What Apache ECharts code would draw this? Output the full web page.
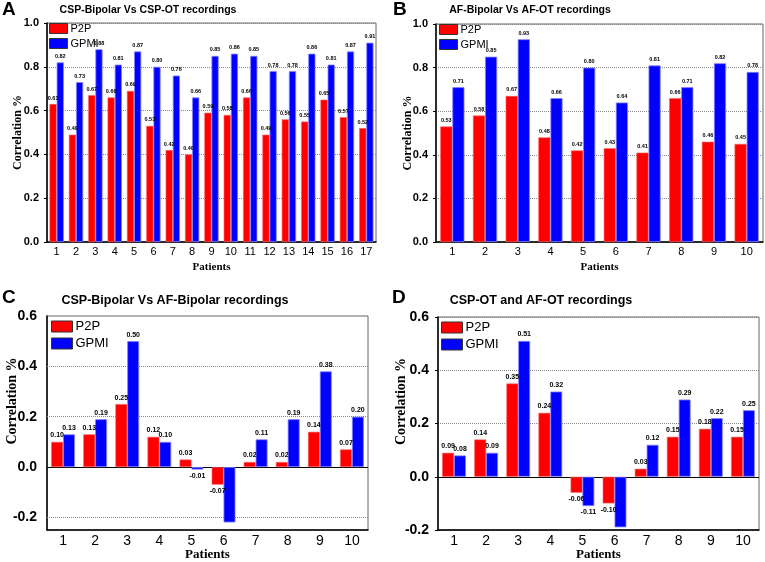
<!DOCTYPE html>
<html><head><meta charset="utf-8">
<script src="https://cdn.jsdelivr.net/npm/echarts@6/dist/echarts.min.js"></script>
<style>html,body{margin:0;padding:0;background:#fff}#c{width:765px;height:562px}</style>
</head><body><div id="c"></div>
<script>
// ---- Data ----
const patientsA = ['1','2','3','4','5','6','7','8','9','10','11','12','13','14','15','16','17'];
const patients10 = ['1','2','3','4','5','6','7','8','9','10'];
const aP2P  = [0.63,0.49,0.67,0.66,0.69,0.53,0.42,0.40,0.59,0.58,0.66,0.49,0.56,0.55,0.65,0.57,0.52];
const aGPMI = [0.82,0.73,0.88,0.81,0.87,0.80,0.76,0.66,0.85,0.86,0.85,0.78,0.78,0.86,0.81,0.87,0.91];
const bP2P  = [0.53,0.58,0.67,0.48,0.42,0.43,0.41,0.66,0.46,0.45];
const bGPMI = [0.71,0.85,0.93,0.66,0.80,0.64,0.81,0.71,0.82,0.78];
const cP2P  = [0.10,0.13,0.25,0.12,0.03,-0.07,0.02,0.02,0.14,0.07];
const cGPMI = [0.13,0.19,0.50,0.10,-0.01,-0.22,0.11,0.19,0.38,0.20];
const dP2P  = [0.09,0.14,0.35,0.24,-0.06,-0.10,0.03,0.15,0.18,0.15];
const dGPMI = [0.08,0.09,0.51,0.32,-0.11,-0.19,0.12,0.29,0.22,0.25];
const titles = ['CSP-Bipolar Vs CSP-OT recordings','AF-Bipolar Vs AF-OT recordings','CSP-Bipolar Vs AF-Bipolar recordings','CSP-OT and AF-OT recordings'];
const letters = ['A','B','C','D'];
const seriesNames = ['P2P','GPMI'];

// ---- Styles ----
const RED = '#ff0000', BLUE = '#0000ff';
const SANS = 'Liberation Sans, Arial, sans-serif';
const SERIF = 'Liberation Serif, Times New Roman, serif';

const panels = [
  {grid:{left:47, top:23, right:389, bottom:320}, cats:patientsA, p:aP2P, g:aGPMI, min:0, max:1, interval:0.2,
   tickFs:11, catFs:11, nameFs:12, lblFs:5.5, legFs:11, legW:18, legH:10, legLeft:49, legTop:23, titleX:148, titleY:5, titleFs:10.5,
   patY:20, yGap:23, yMargin:8, nameShift:0},
  {grid:{left:436, top:24, right:2, bottom:320}, cats:patients10, p:bP2P, g:bGPMI, min:0, max:1, interval:0.2,
   tickFs:11, catFs:11, nameFs:12, lblFs:5.5, legFs:11, legW:18, legH:10, legLeft:439, legTop:24, titleX:530, titleY:5, titleFs:10.5,
   patY:20, yGap:22, yMargin:8, nameShift:0},
  {grid:{left:47, top:316, right:397, bottom:32}, cats:patients10, p:cP2P, g:cGPMI, min:-0.25, max:0.6, interval:0.05,
   tickFs:14, catFs:14, nameFs:14, lblFs:7, legFs:13, legW:21, legH:11, legLeft:51, legTop:320, titleX:175, titleY:294, titleFs:12.5,
   patY:18, yGap:28, yMargin:10, nameShift:44, extraLines:[-0.2,0.2,0.4]},
  {grid:{left:438, top:317, right:6, bottom:32}, cats:patients10, p:dP2P, g:dGPMI, min:-0.2, max:0.6, interval:0.2,
   tickFs:14, catFs:14, nameFs:14, lblFs:7, legFs:13, legW:21, legH:11, legLeft:441, legTop:321, titleX:541, titleY:294, titleFs:12.5,
   patY:18, yGap:30, yMargin:9, nameShift:44}
];
const letterPos = [[2,0],[393,0],[2,288],[392,288]];

const option = {animation:false, backgroundColor:'#fff', title:[], grid:[], xAxis:[], yAxis:[], legend:[], series:[]};

panels.forEach((pn, i) => {
  option.title.push({text:letters[i], left:letterPos[i][0], top:letterPos[i][1],
    textStyle:{fontFamily:SANS, fontWeight:'bold', fontSize:19, color:'#000'}, padding:0});
  option.title.push({text:titles[i], left:pn.titleX, top:pn.titleY, textAlign:'center', padding:0,
    textStyle:{fontFamily:SANS, fontWeight:'bold', fontSize:pn.titleFs, color:'#000'}});
  option.grid.push({left:pn.grid.left, top:pn.grid.top, right:pn.grid.right, bottom:pn.grid.bottom,
    show:true, borderColor:'#666', borderWidth:1, containLabel:false, outerBoundsMode:'none'});
  option.xAxis.push({type:'category', gridIndex:i, data:pn.cats,
    name:'Patients', nameLocation:'middle', nameGap:pn.patY, nameMoveOverlap:false,
    nameTextStyle:{fontFamily:SERIF, fontWeight:'bold', fontSize:pn.nameFs-1, color:'#000'},
    axisLine:{onZero:false, lineStyle:{color:'#000', width:1.5}},
    axisTick:{show:false},
    axisLabel:{fontFamily:SANS, fontSize:pn.catFs, color:'#000', margin:4}});
  const isC = pn.interval < 0.1;
  option.yAxis.push({type:'value', gridIndex:i, min:pn.min, max:pn.max, interval:pn.interval,
    name:'Correlation %', nameLocation:'middle', nameGap:pn.yGap, nameMoveOverlap:false,
    nameTextStyle:{fontFamily:SERIF, fontWeight:'bold', fontSize:pn.nameFs, color:'#000', padding:[0,0,0,pn.nameShift]},
    axisLine:{show:true, lineStyle:{color:'#000', width:1.5}},
    axisTick:{show:!isC, length:3, lineStyle:{color:'#000'}},
    splitLine:{show:!isC, lineStyle:{color:'#888', type:'dotted', width:1}},
    axisLabel:{fontFamily:SANS, fontWeight:'bold', fontSize:pn.tickFs, color:'#000', margin:pn.yMargin,
      formatter: v => {
        const k = v * 5;
        if (Math.abs(k - Math.round(k)) > 1e-6) return '';
        const r = Math.round(k) / 5;
        return (Math.abs(r) < 1e-9 ? 0 : r).toFixed(1);
      }}});
  option.legend.push({orient:'vertical', left:pn.legLeft, top:pn.legTop, padding:0, itemGap:4,
    itemWidth:pn.legW, itemHeight:pn.legH, icon:'rect', data:seriesNames,
    textStyle:{fontFamily:SANS, fontSize:pn.legFs, color:'#000', padding:[0,0,0,-2]},
    itemStyle:{borderColor:'#333', borderWidth:1}});
  const mk = (vals) => vals.map(v => ({value:v, label:{position: v < 0 ? 'bottom' : 'top', show: v >= pn.min + 0.05}}));
  const lblStyle = {show:true, fontFamily:SANS, fontWeight:'bold', fontSize:pn.lblFs, color:'#000', distance:3,
    formatter: p => p.value.toFixed(2)};
  const markLines = [{yAxis:0, lineStyle:{color:'#000', type:'solid', width:1}}];
  (pn.extraLines || []).forEach(y => markLines.push({yAxis:y, lineStyle:{color:'#888', type:'dotted', width:1}}));
  option.series.push({name:'P2P', type:'bar', xAxisIndex:i, yAxisIndex:i, data:mk(pn.p),
    barWidth:'37%', barGap:'0%', itemStyle:{color:RED, borderColor:'#ff6666', borderWidth:0.6},
    label:lblStyle,
    markLine: pn.min < 0 ? {silent:true, symbol:'none', label:{show:false}, data:markLines, z:1} : undefined});
  option.series.push({name:'GPMI', type:'bar', xAxisIndex:i, yAxisIndex:i, data:mk(pn.g),
    barWidth:'37%', barGap:'0%', itemStyle:{color:BLUE, borderColor:'#8080ff', borderWidth:0.8},
    label:lblStyle});
});

const chart = echarts.init(document.getElementById('c'), null, {renderer:'canvas'});
chart.setOption(option);
</script></body></html>
